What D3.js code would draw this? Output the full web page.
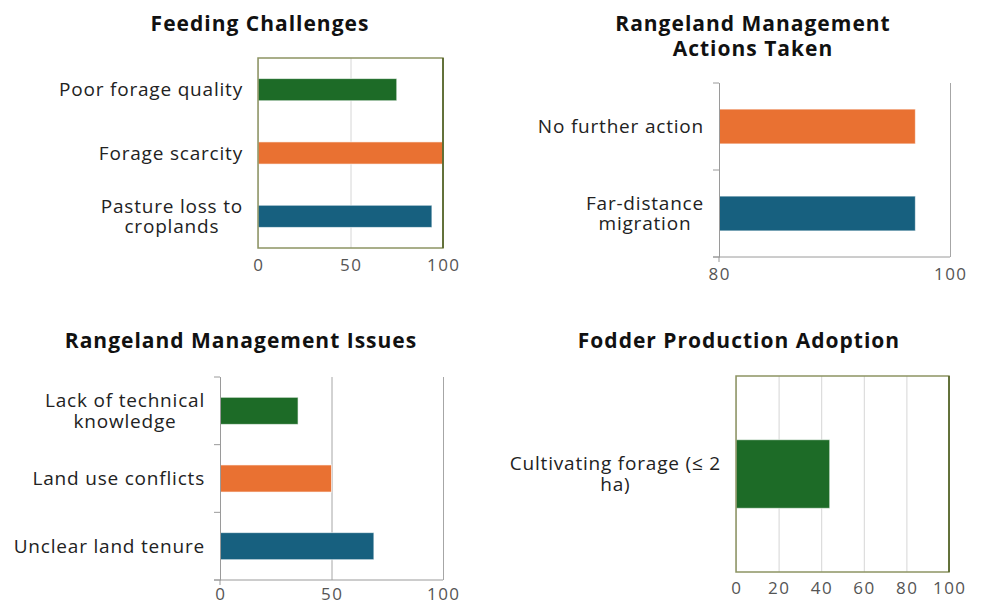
<html>
  <head>
    <meta charset="utf-8" />
    <script src="https://d3js.org/d3.v7.min.js"></script>
    <style>
      body { margin: 0; background: #fff; }
      text { font-family: "Open Sans", Lato, sans-serif; }
    </style>
  </head>
  <body>
    <div id="chart"></div>
    <script>
      // data
      const feedingCats = ["Poor forage quality", "Forage scarcity", "Pasture loss to croplands"];
      const feedingVals = [75, 100, 94];

      const actionsCats = ["No further action", "Far-distance migration"];
      const actionsVals = [97, 97];

      const issuesCats = ["Lack of technical knowledge", "Land use conflicts", "Unclear land tenure"];
      const issuesVals = [35, 50, 69];

      const fodderCats = ["Cultivating forage (\u2264 2 ha)"];
      const fodderVals = [44];

      const green = "#1d6b27", orange = "#e97132", blue = "#17607f";

      // wrapped label lines (as they are broken in the picture)
      const wraps = {
        "Pasture loss to croplands": ["Pasture loss to", "croplands"],
        "Far-distance migration": ["Far-distance", "migration"],
        "Lack of technical knowledge": ["Lack of technical", "knowledge"],
        "Cultivating forage (\u2264 2 ha)": ["Cultivating forage (\u2264 2", "ha)"]
      };

      const svg = d3.select("#chart").append("svg")
        .attr("width", 985).attr("height", 604);

      function panel(o) {
        let x = d3.scaleLinear().domain(o.domain).range([o.left, o.left + o.width]);
        let y = d3.scaleBand().domain(o.cats).range([o.top, o.top + o.height]).paddingInner(o.pad).paddingOuter(o.pad / 2);
        let yb = d3.scaleBand().domain(o.cats).range([o.top, o.top + o.height]);
        let g = svg.append("g");

        // title
        let t = g.append("text")
          .attr("x", o.titleX).attr("y", o.titleY)
          .attr("text-anchor", "middle")
          .attr("font-size", 21).attr("font-weight", 700).attr("letter-spacing", 1)
          .attr("fill", "#111");
        o.title.forEach((s, i) => t.append("tspan").attr("x", o.titleX).attr("dy", i ? 24.5 : 0).text(s));

        // grid
        let grid = g.append("g")
          .attr("transform", "translate(0," + (o.top + o.height) + ")")
          .call(d3.axisBottom(x).tickValues(o.ticks).tickSize(-o.height).tickFormat(""));
        grid.select(".domain").remove();
        grid.selectAll("line").attr("stroke", o.framed ? "#d6d6d6" : "#a6a6a6").attr("stroke-width", 1);

        // bars
        g.selectAll("rect.bar").data(o.cats).enter().append("rect")
          .attr("class", "bar")
          .attr("x", x(o.domain[0]))
          .attr("y", d => y(d))
          .attr("width", (d, i) => x(o.vals[i]) - x(o.domain[0]))
          .attr("height", y.bandwidth())
          .attr("fill", (d, i) => o.colors[i])
          .attr("stroke", "#fff").attr("stroke-opacity", 0.6);

        if (o.framed) {
          g.append("rect")
            .attr("x", o.left).attr("y", o.top)
            .attr("width", o.width).attr("height", o.height)
            .attr("fill", "none").attr("stroke", "#8d9463").attr("stroke-width", 1.5);
          g.append("line")
            .attr("x1", o.left + o.width).attr("x2", o.left + o.width)
            .attr("y1", o.top).attr("y2", o.top + o.height)
            .attr("stroke", "#4e5f22").attr("stroke-width", 1.5);
        } else {
          let ya = g.append("g")
            .attr("transform", "translate(" + o.left + ",0)")
            .call(d3.axisLeft(yb).tickSize(0).tickFormat(""));
          ya.select(".domain").attr("stroke", "#9a9a9a");
          // tick marks on the band edges
          let edges = o.cats.map(c => yb(c)).concat([o.top + o.height]);
          g.selectAll("line.edge").data(edges).enter().append("line")
            .attr("x1", o.left - 6).attr("x2", o.left)
            .attr("y1", d => d).attr("y2", d => d)
            .attr("stroke", "#9a9a9a");
          g.append("line")
            .attr("x1", o.left - 6).attr("x2", o.left + o.width)
            .attr("y1", o.top + o.height).attr("y2", o.top + o.height)
            .attr("stroke", "#9a9a9a");
          g.append("line")
            .attr("x1", o.left).attr("x2", o.left)
            .attr("y1", o.top + o.height).attr("y2", o.top + o.height + 5)
            .attr("stroke", "#9a9a9a");
        }

        // x tick labels
        g.selectAll("text.tick").data(o.ticks).enter().append("text")
          .attr("class", "tick")
          .attr("x", d => x(d) + 0.75).attr("y", o.top + o.height + o.tickDy)
          .attr("text-anchor", "middle")
          .attr("font-size", 17).attr("letter-spacing", 1.5).attr("fill", "#555")
          .text(d => d);

        // category labels (lines centred on each other, block right-aligned)
        o.cats.forEach(c => {
          let lines = wraps[c] || [c];
          let lab = g.append("text")
            .attr("font-size", 19).attr("letter-spacing", 0.8).attr("fill", "#222")
            .attr("text-anchor", "middle");
          let cy = y(c) + y.bandwidth() / 2 - (lines.length - 1) * 10.25 + 6.5;
          lines.forEach((s, i) => lab.append("tspan").attr("x", 0).attr("dy", i ? 20.5 : 0).text(s));
          let w = d3.max(lab.selectAll("tspan").nodes(), n => n.getComputedTextLength());
          let cx = o.left - 15 - w / 2;
          lab.attr("y", cy).selectAll("tspan").attr("x", cx);
        });
      }

      panel({ title: ["Feeding Challenges"], titleX: 260, titleY: 31,
        cats: feedingCats, vals: feedingVals, colors: [green, orange, blue],
        domain: [0, 100], ticks: [0, 50, 100], framed: true, pad: 0.65, tickDy: 23,
        left: 258, top: 58, width: 185, height: 190 });

      panel({ title: ["Rangeland Management", "Actions Taken"], titleX: 753, titleY: 31,
        cats: actionsCats, vals: actionsVals, colors: [orange, blue],
        domain: [80, 100], ticks: [80, 100], framed: false, pad: 0.6, tickDy: 23,
        left: 719, top: 83, width: 231, height: 174 });

      panel({ title: ["Rangeland Management Issues"], titleX: 241, titleY: 348,
        cats: issuesCats, vals: issuesVals, colors: [green, orange, blue],
        domain: [0, 100], ticks: [0, 50, 100], framed: false, pad: 0.6, tickDy: 20,
        left: 220, top: 377, width: 223, height: 203 });

      panel({ title: ["Fodder Production Adoption"], titleX: 739, titleY: 348,
        cats: fodderCats, vals: fodderVals, colors: [green],
        domain: [0, 100], ticks: [0, 20, 40, 60, 80, 100], framed: true, pad: 0.65, tickDy: 22,
        left: 736, top: 376, width: 213, height: 196 });
    </script>
  </body>
</html>
